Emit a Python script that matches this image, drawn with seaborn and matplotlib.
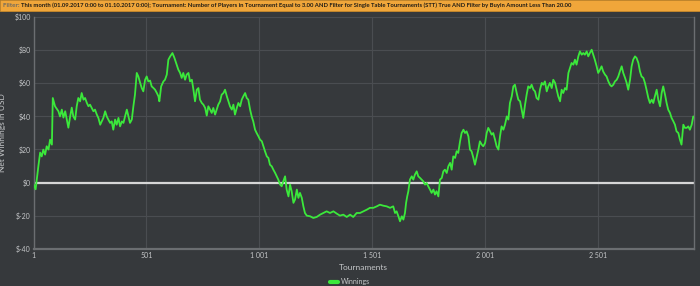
import matplotlib
matplotlib.use("Agg")
import matplotlib.pyplot as plt
import seaborn as sns
import pandas as pd
from matplotlib.lines import Line2D
from matplotlib.patches import Rectangle
from matplotlib import font_manager

tournaments = [1, 10, 22, 30, 37, 44, 52, 59, 67, 74, 82, 86, 96, 111, 118, 126, 133, 141, 148, 155,
               163, 170, 177, 185, 192, 199, 207, 214, 222, 229, 237, 244, 251, 266, 273, 281, 288,
               296, 303, 310, 318, 325, 332, 340, 347, 354, 362, 369, 377, 384, 392, 399, 406, 414,
               421, 428, 436, 443, 450, 458, 465, 473, 480, 487, 495, 502, 509, 517, 524, 532, 539,
               547, 554, 558, 566, 576, 583, 591, 598, 606, 616, 625, 635, 642, 650, 657, 664, 672,
               679, 687, 694, 702, 709, 716, 724, 731, 738, 746, 753, 761, 768, 775, 783, 790, 797,
               805, 812, 819, 827, 834, 842, 849, 857, 864, 871, 879, 886, 893, 901, 908, 916, 923,
               930, 938, 945, 952, 960, 967, 974, 982, 989, 997, 1004, 1012, 1019, 1026, 1034, 1041,
               1048, 1056, 1063, 1071, 1078, 1085, 1093, 1100, 1107, 1115, 1122, 1130, 1137, 1144,
               1152, 1159, 1167, 1174, 1181, 1189, 1196, 1203, 1211, 1226, 1240, 1255, 1270, 1284,
               1299, 1314, 1329, 1344, 1358, 1373, 1388, 1403, 1417, 1432, 1447, 1462, 1477, 1491,
               1506, 1521, 1535, 1550, 1565, 1580, 1594, 1602, 1609, 1617, 1624, 1632, 1639, 1646,
               1651, 1656, 1661, 1668, 1676, 1683, 1690, 1698, 1705, 1713, 1720, 1727, 1735, 1742,
               1749, 1757, 1764, 1772, 1779, 1786, 1794, 1801, 1809, 1816, 1823, 1831, 1838, 1846,
               1853, 1860, 1868, 1875, 1882, 1890, 1897, 1905, 1912, 1919, 1927, 1934, 1941, 1949,
               1956, 1964, 1971, 1978, 1986, 1993, 2001, 2008, 2015, 2023, 2030, 2037, 2045, 2052,
               2060, 2067, 2074, 2082, 2089, 2097, 2104, 2111, 2119, 2126, 2133, 2141, 2148, 2156,
               2163, 2170, 2178, 2185, 2192, 2200, 2207, 2215, 2222, 2229, 2237, 2244, 2252, 2259,
               2266, 2274, 2281, 2288, 2296, 2303, 2311, 2318, 2325, 2333, 2340, 2347, 2355, 2362,
               2370, 2377, 2384, 2392, 2399, 2406, 2414, 2421, 2429, 2436, 2443, 2451, 2458, 2465,
               2473, 2480, 2487, 2495, 2502, 2510, 2517, 2524, 2532, 2539, 2547, 2554, 2561, 2569,
               2576, 2584, 2591, 2598, 2606, 2613, 2621, 2628, 2635, 2643, 2650, 2657, 2665, 2672,
               2680, 2687, 2694, 2702, 2709, 2716, 2724, 2731, 2739, 2746, 2753, 2761, 2768, 2776,
               2783, 2790, 2798, 2805, 2812, 2820, 2827, 2835, 2842, 2849, 2857, 2864, 2871, 2879,
               2886, 2894, 2901, 2908, 2916, 2923]

winnings = [-1.0, -4.0, 9.8, 18.1, 15.8, 19.9, 16.9, 21.9, 19.9, 25.9, 22.9, 51.0, 46.0, 43.0, 39.9,
            44.0, 39.2, 43.0, 38.0, 33.1, 39.9, 45.2, 39.9, 38.0, 46.0, 51.0, 49.0, 54.0, 50.0,
            51.0, 48.0, 46.0, 47.0, 43.0, 44.0, 41.0, 39.0, 34.9, 36.9, 39.0, 43.0, 39.9, 38.0,
            36.0, 36.9, 31.9, 38.0, 34.9, 39.0, 33.9, 36.9, 36.0, 39.9, 44.0, 39.9, 36.0, 38.0,
            46.0, 53.0, 66.1, 64.0, 60.1, 57.0, 55.0, 62.0, 64.0, 61.0, 61.5, 58.0, 57.0, 56.0,
            54.0, 52.0, 49.0, 58.0, 61.0, 62.0, 65.1, 74.1, 76.1, 78.1, 75.1, 71.1, 68.1, 66.1,
            63.1, 66.1, 62.0, 65.1, 66.1, 61.0, 62.0, 56.0, 49.0, 56.0, 57.0, 50.0, 48.0, 47.0,
            45.0, 40.4, 46.0, 44.0, 42.0, 45.0, 41.0, 44.0, 47.0, 49.0, 53.0, 54.0, 56.0, 52.0,
            49.0, 46.0, 44.0, 47.0, 41.0, 45.0, 48.0, 46.0, 50.0, 52.0, 54.0, 51.0, 50.0, 44.0,
            39.9, 36.9, 31.9, 29.9, 27.9, 25.9, 24.9, 21.9, 18.9, 15.8, 14.9, 10.8, 9.8, 7.8, 5.8,
            3.8, 1.8, -1.2, -2.2, 0.8, 3.8, -4.2, -8.3, -1.2, -5.2, -12.2, -10.2, -4.2, -9.2,
            -6.2, -9.2, -14.3, -18.3, -19.9, -20.3, -21.3, -20.7, -19.3, -18.3, -17.3, -18.3,
            -17.3, -18.7, -19.9, -19.3, -20.7, -19.3, -20.7, -18.3, -18.3, -17.3, -16.3, -15.2,
            -15.2, -14.3, -13.3, -13.9, -14.3, -15.2, -14.3, -18.3, -17.3, -20.3, -23.3, -20.3,
            -22.3, -18.3, -12.2, -8.3, -5.2, 1.8, 3.8, 1.8, 4.8, 6.8, 3.8, 2.8, 1.8, 0.8, -1.2,
            -0.2, -2.2, -4.2, -6.2, -4.2, -7.2, -5.2, -8.3, 1.8, 2.8, 6.8, 7.8, 5.8, 9.8, 11.9,
            7.8, 15.8, 14.9, 18.9, 17.9, 24.9, 29.9, 31.9, 29.9, 30.9, 27.9, 19.9, 18.9, 14.9,
            10.8, 15.8, 19.9, 24.9, 22.9, 21.9, 23.9, 29.9, 33.0, 30.9, 28.9, 29.9, 25.9, 21.9,
            19.9, 27.9, 33.9, 31.9, 34.9, 39.9, 38.0, 48.0, 52.0, 58.0, 59.0, 54.0, 50.0, 49.0,
            44.0, 39.0, 47.0, 53.0, 58.0, 57.0, 59.0, 56.0, 55.0, 51.0, 50.0, 56.0, 60.1, 59.0,
            61.0, 55.0, 58.0, 60.1, 57.0, 62.0, 60.1, 56.0, 52.0, 49.0, 56.0, 54.0, 57.0, 56.0,
            66.1, 69.1, 72.1, 71.1, 74.1, 71.1, 76.1, 79.1, 77.1, 78.1, 77.1, 79.1, 76.1, 78.1,
            80.1, 77.1, 74.1, 70.1, 66.1, 68.1, 70.1, 67.0, 65.1, 64.0, 61.0, 59.0, 58.0, 59.0,
            61.0, 62.0, 64.0, 67.0, 70.1, 66.1, 63.1, 60.1, 56.0, 62.0, 70.1, 74.1, 76.1, 75.1,
            72.1, 67.0, 64.0, 63.1, 60.1, 56.0, 51.0, 48.0, 50.0, 48.0, 52.0, 56.0, 50.0, 46.0,
            54.0, 58.0, 53.0, 48.0, 44.0, 42.0, 39.0, 36.9, 34.9, 30.9, 29.9, 25.9, 22.9, 34.9,
            33.0, 33.0, 33.9, 31.9, 34.9, 39.9]

x_ticks = [1, 501, 1001, 1501, 2001, 2501]
x_tick_labels = ["1", "501", "1 001", "1 501", "2 001", "2 501"]
y_ticks = [-40, -20, 0, 20, 40, 60, 80, 100]
y_tick_labels = ["$-40", "$-20", "$0", "$20", "$40", "$60", "$80", "$100"]

title_text = ("This month (01.09.2017 0:00 to 01.10.2017 0:00); Tournament: Number of Players in "
              "Tournament Equal to 3.00 AND Filter for Single Table Tournaments (STT) True AND "
              "Filter by Buyin Amount Less Than 20.00")

BG = "#36393c"
GRID = "#4a4d51"
TXT = "#c4c6c8"
GREEN = "#3be83b"

sns.set_theme(style="dark")
names = {f.name for f in font_manager.fontManager.ttflist}
narrow = "Liberation Sans Narrow" if "Liberation Sans Narrow" in names else "Lato"
plt.rcParams["font.family"] = ["Lato", "DejaVu Sans"]

df = pd.DataFrame({"Tournaments": tournaments, "Winnings": winnings})

fig = plt.figure(figsize=(7.0, 2.86), dpi=100, facecolor=BG)
ax = fig.add_axes([0.048, 0.1294, 0.943, 0.8122])
ax.set_facecolor(BG)

ax.axhline(0, color="#d6d6d6", lw=1.6, zorder=2)
sns.lineplot(data=df, x="Tournaments", y="Winnings", ax=ax, color=GREEN, lw=1.3,
             zorder=3, legend=False)

ax.set_xlim(1, 2925)
ax.set_ylim(-40, 100)
ax.set_xticks(x_ticks)
ax.set_xticklabels(x_tick_labels)
ax.set_yticks(y_ticks)
ax.set_yticklabels(y_tick_labels)
ax.grid(True, color=GRID, lw=0.8)
ax.tick_params(axis="both", colors=TXT, labelsize=5, length=0, pad=2)
ax.set_xlabel("Tournaments", color=TXT, fontsize=6, labelpad=4)
ax.set_ylabel("Net Winnings in USD", color=TXT, fontsize=6, labelpad=6)
for side in ["left", "right", "bottom"]:
    ax.spines[side].set_visible(True)
    ax.spines[side].set_color("#6b6e71")
    ax.spines[side].set_linewidth(1.0)
ax.spines["bottom"].set_linewidth(1.6)
ax.spines["top"].set_visible(False)

handle = Line2D([0], [0], color=GREEN, lw=3)
fig.legend([handle], ["Winnings"], loc="center", bbox_to_anchor=(0.5, 0.015),
           frameon=False, fontsize=5, labelcolor=TXT, handlelength=1.2, handletextpad=0.5)

fig.patches.append(Rectangle((0, 1 - 11 / 286), 1, 11 / 286, transform=fig.transFigure,
                             facecolor="#f0a63a", edgecolor="#c98a2a", lw=0.6, zorder=0))
t1 = fig.text(3 / 700, 1 - 5.5 / 286, "Filter: ", color="#6e6a60", fontsize=4.6,
              fontweight="bold", va="center", ha="left", family=[narrow, "DejaVu Sans"])
fig.canvas.draw()
bb = t1.get_window_extent()
t2 = fig.text(bb.x1 / 700, 1 - 5.5 / 286, title_text, color="#1e1b16", fontsize=5.0,
              fontweight="bold", va="center", ha="left", family=[narrow, "DejaVu Sans"])
fig.canvas.draw()
w = t2.get_window_extent().width
target = 569 - bb.x1
t2.set_fontsize(5.0 * target / w)

fig.savefig("out.png", dpi=100, facecolor=BG)
